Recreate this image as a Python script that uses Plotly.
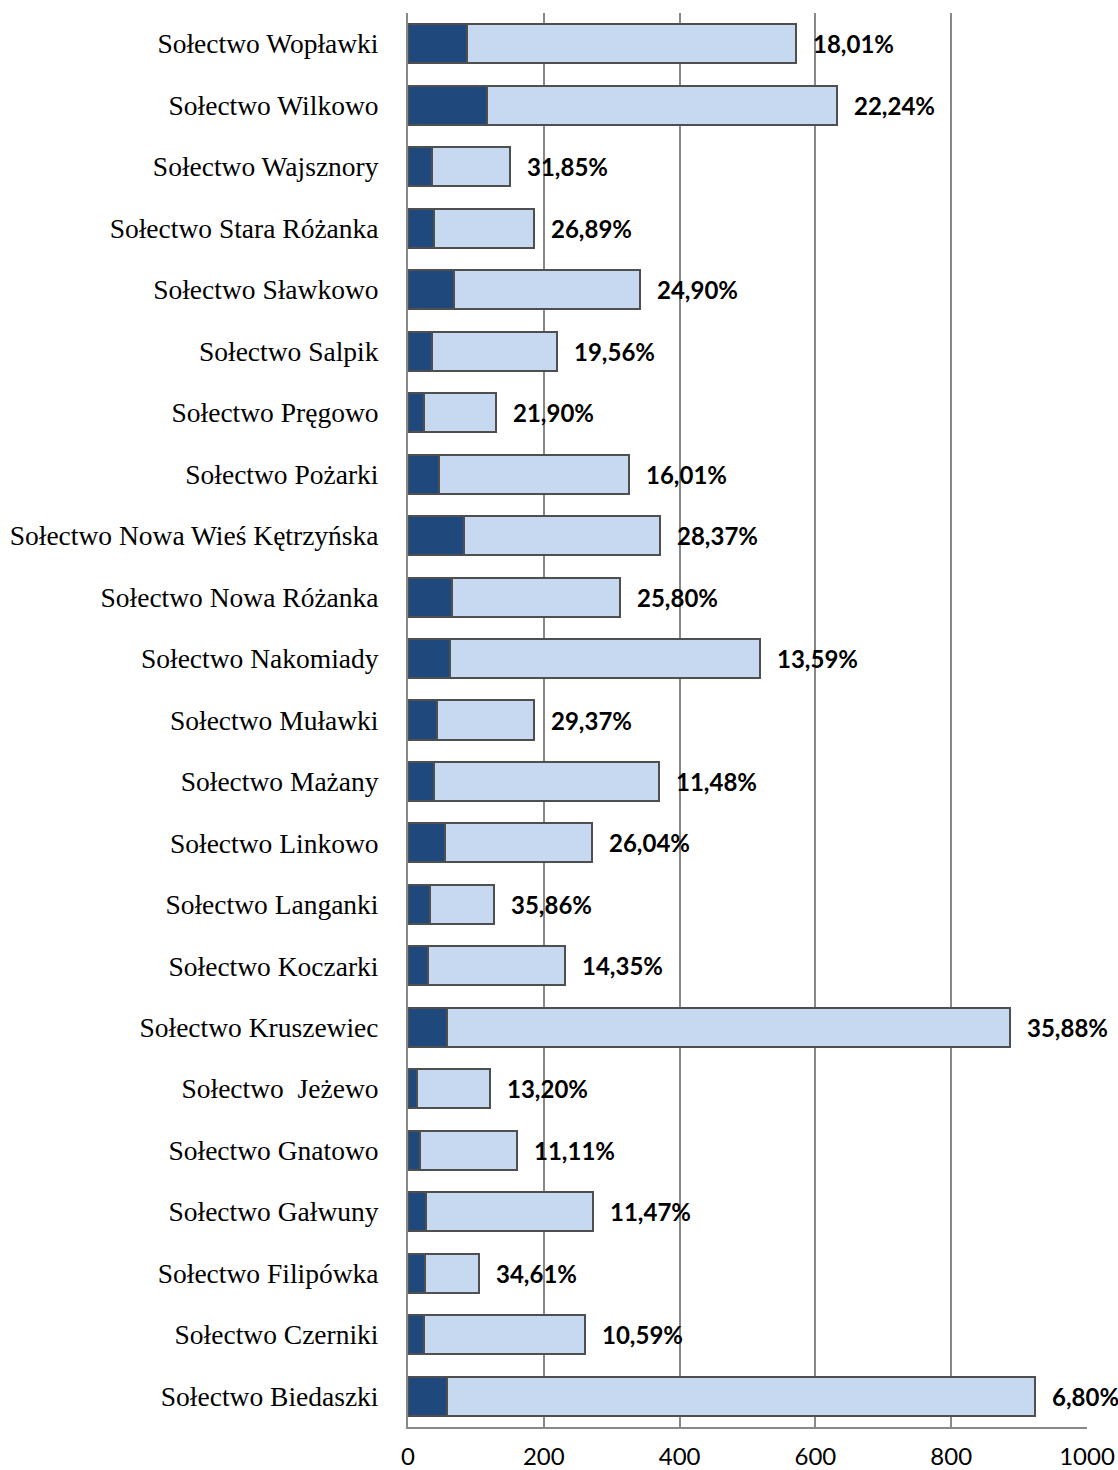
import plotly.graph_objects as go

# Sołectwa, top to bottom as in the chart
categories = [
    "Sołectwo Wopławki", "Sołectwo Wilkowo", "Sołectwo Wajsznory",
    "Sołectwo Stara Różanka", "Sołectwo Sławkowo", "Sołectwo Salpik",
    "Sołectwo Pręgowo", "Sołectwo Pożarki", "Sołectwo Nowa Wieś Kętrzyńska",
    "Sołectwo Nowa Różanka", "Sołectwo Nakomiady", "Sołectwo Muławki",
    "Sołectwo Mażany", "Sołectwo Linkowo", "Sołectwo Langanki",
    "Sołectwo Koczarki", "Sołectwo Kruszewiec", "Sołectwo \u00a0Jeżewo",
    "Sołectwo Gnatowo", "Sołectwo Gałwuny", "Sołectwo Filipówka",
    "Sołectwo Czerniki", "Sołectwo Biedaszki",
]
dark_values = [87, 116, 36, 39, 68, 36, 24, 46, 82, 65, 62, 42,
               38, 55, 33, 30, 58, 13, 17, 26, 25, 24, 58]
light_values = [484, 516, 114, 146, 274, 184, 105, 280, 289, 247, 456, 143,
                331, 216, 93, 201, 828, 108, 143, 247, 79, 236, 866]
pct_labels = ["18,01%", "22,24%", "31,85%", "26,89%", "24,90%", "19,56%",
              "21,90%", "16,01%", "28,37%", "25,80%", "13,59%", "29,37%",
              "11,48%", "26,04%", "35,86%", "14,35%", "35,88%", "13,20%",
              "11,11%", "11,47%", "34,61%", "10,59%", "6,80%"]
x_ticks = [0, 200, 400, 600, 800, 1000]

outline = dict(color="#4f4f4f", width=2)

fig = go.Figure()
fig.add_trace(go.Bar(
    y=categories, x=dark_values, orientation="h",
    marker=dict(color="#1f497d", line=outline), showlegend=False,
))
fig.add_trace(go.Bar(
    y=categories, x=light_values, orientation="h",
    marker=dict(color="#c6d9f1", line=outline), showlegend=False,
))

# percentage labels just past the end of each bar
for cat, d, l, txt in zip(categories, dark_values, light_values, pct_labels):
    fig.add_annotation(
        x=d + l, y=cat, text=txt, showarrow=False,
        xanchor="left", xshift=15, yanchor="middle",
        font=dict(family="Lato, Open Sans, sans-serif", size=24, color="black",
                  weight="bold"),
    )

fig.update_layout(
    barmode="stack",
    bargap=0.365,
    width=1118, height=1470,
    margin=dict(l=408, r=31, t=13, b=43, autoexpand=False),
    showlegend=False,
    plot_bgcolor="white", paper_bgcolor="white",
    xaxis=dict(
        range=[0, 1000], tickvals=x_ticks, automargin=False,
        showgrid=True, gridcolor="#888888", gridwidth=2,
        showline=True, linecolor="#888888", linewidth=2,
        zeroline=False, ticks="", ticklabelstandoff=7,
        tickfont=dict(family="Lato, Open Sans, sans-serif", size=24, color="black"),
    ),
    yaxis=dict(
        autorange="reversed", automargin=False,
        showgrid=False, zeroline=False,
        showline=True, linecolor="#888888", linewidth=2,
        ticks="", ticklabelstandoff=22,
        tickfont=dict(family="Liberation Serif, DejaVu Serif, serif", size=27.5,
                      color="black"),
    ),
)

# drop the page's default body margin so the figure sits at the window origin
fig.write_html("out.html", config={"displayModeBar": False},
               post_script="document.body.style.margin='0';")
